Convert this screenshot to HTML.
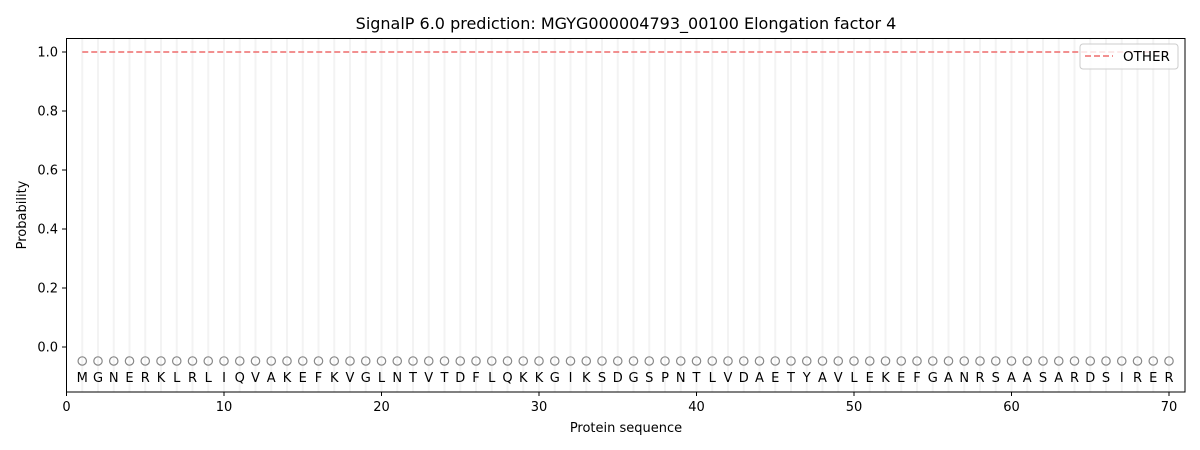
<!DOCTYPE html>
<html><head><meta charset="utf-8"><style>body{margin:0;background:#fff}svg{display:block;font-family:"DejaVu Sans","Liberation Sans",sans-serif}</style></head>
<body>
<svg id="s" width="1200" height="450" xmlns="http://www.w3.org/2000/svg">
<g id="g"></g>
<rect x="66.5" y="38.5" width="1118.5" height="353.5" fill="none" stroke="#000" stroke-width="1"/>
<text x="626" y="29" font-size="16" text-anchor="middle">SignalP 6.0 prediction: MGYG000004793_00100 Elongation factor 4</text>
<text x="626" y="432" font-size="13" text-anchor="middle">Protein sequence</text>
<text x="26" y="215" font-size="13" text-anchor="middle" transform="rotate(-90 26 215)">Probability</text>
<rect x="1080" y="44" width="98" height="25" rx="3" fill="#fff" fill-opacity="0.8" stroke="#ccc"/>
<line x1="1085" y1="56" x2="1113" y2="56" stroke="#f08080" stroke-width="1.8" stroke-dasharray="6,3"/>
<text x="1123" y="61" font-size="13.5">OTHER</text>
</svg>
<script>
var seq="MGNERKLRLIQVAKEFKVGLNTVTDFLQKKGIKSDGSPNTLVDAETYAVLEKEFGANRSAASARDSIRER";
var X=function(v){return 66.5+v*15.75}, Y=function(v){return 347-v*295};
var h='';
for(var i=1;i<=70;i++){var x=X(i);h+='<line x1="'+x+'" y1="39" x2="'+x+'" y2="392" stroke="#f3f3f3" stroke-width="2"/>';}
h+='<line x1="'+X(1)+'" y1="'+Y(1)+'" x2="'+X(70)+'" y2="'+Y(1)+'" stroke="#f08080" stroke-width="1.8" stroke-dasharray="6,3"/>';
for(var i=1;i<=70;i++){var x=X(i);h+='<circle cx="'+x+'" cy="361" r="4.2" fill="none" stroke="#888" stroke-width="1.2"/><text x="'+x+'" y="382" font-size="13" text-anchor="middle">'+seq[i-1]+'</text>';}
for(var t=0;t<=70;t+=10){var x=X(t);h+='<line x1="'+x+'" y1="392" x2="'+x+'" y2="396" stroke="#000"/><text x="'+x+'" y="411" font-size="13" text-anchor="middle">'+t+'</text>';}
for(var k=0;k<=5;k++){var v=k*0.2,y=Y(v);h+='<line x1="62" y1="'+y+'" x2="66.5" y2="'+y+'" stroke="#000"/><text x="58" y="'+(y+4.5)+'" font-size="13" text-anchor="end">'+v.toFixed(1)+'</text>';}
document.getElementById('g').innerHTML=h;
</script>
</body></html>
